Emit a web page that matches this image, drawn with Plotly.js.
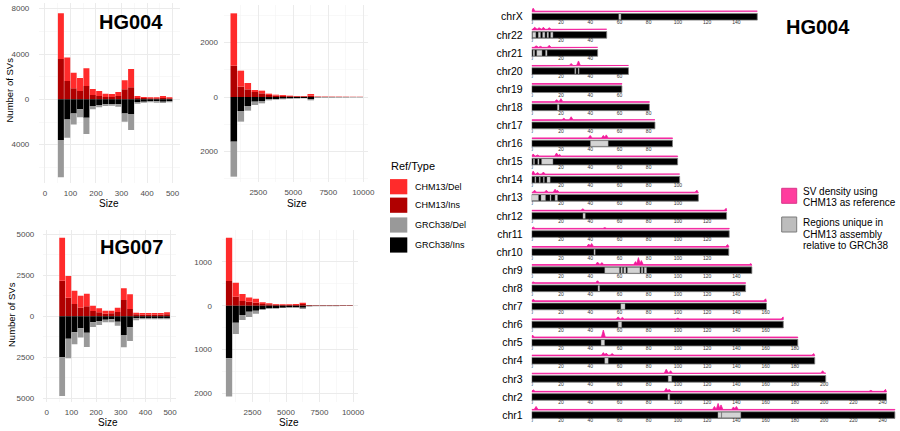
<!DOCTYPE html>
<html><head><meta charset="utf-8">
<script src="https://cdn.plot.ly/plotly-3.0.1.min.js"></script>
<style>html,body{margin:0;padding:0;background:#fff}#chart{width:900px;height:431px}</style>
</head><body><div id="chart"></div><script>
// ---------- SV size histograms ----------
const sizeBinsSmall = [62.5,87.5,112.5,137.5,162.5,187.5,212.5,237.5,262.5,287.5,312.5,337.5,362.5,387.5,412.5,437.5,462.5,487.5];
const sizeBinsLarge = [750,1250,1750,2250,2750,3250,3750,4250,4750,5250,5750,6250,6750,7250,7750,8250,8750,9250,9750];
const sizeTicksSmall = [0,100,200,300,400,500];
const sizeTicksLarge = [2500,5000,7500,10000];

const hg004SmallChmIns = [3560,1620,970,735,1180,380,295,205,205,295,880,1060,120,120,90,90,120,90];
const hg004SmallChmDel = [4030,2060,1380,1145,1560,530,440,295,265,355,800,1620,175,85,85,85,175,85];
const hg004SmallGrcIns = [3590,1770,1240,880,1620,590,500,440,440,440,1240,1290,235,205,175,175,205,175];
const hg004SmallGrcDel = [3290,1610,970,710,1440,290,205,150,120,210,730,1420,145,90,90,120,120,90];

const hg004LargeChmIns = [1146,378,280,183,134,73,49,40,30,25,25,49,10,8,8,6,6,5,5];
const hg004LargeChmDel = [1915,585,232,73,98,49,36,33,19,12,12,61,10,10,7,9,6,5,5];
const hg004LargeGrcIns = [1634,512,329,171,146,85,73,60,49,37,37,73,12,10,10,8,8,6,6];
const hg004LargeGrcDel = [1281,390,171,122,86,37,25,25,24,23,12,49,8,8,5,7,4,4,4];

const hg007SmallChmIns = [2175,1138,752,528,610,325,244,163,183,264,996,447,122,100,100,100,100,120];
const hg007SmallChmDel = [2622,1321,813,732,772,325,244,182,162,264,711,894,102,103,103,103,103,124];
const hg007SmallGrcIns = [2500,1362,976,732,996,366,285,203,183,325,1138,650,122,100,100,100,100,100];
const hg007SmallGrcDel = [2358,1199,731,568,874,284,243,163,183,244,752,854,122,83,83,83,83,83];

const hg007LargeChmIns = [560,205,106,91,68,38,30,23,15,15,15,38,8,6,6,5,5,4,4];
const hg007LargeChmDel = [985,318,159,98,91,38,23,15,15,15,23,30,7,6,6,5,5,4,4];
const hg007LargeGrcIns = [1197,386,212,136,114,76,61,53,45,38,38,45,10,8,8,6,6,5,5];
const hg007LargeGrcDel = [871,258,114,122,68,22,15,15,8,15,15,31,5,4,4,4,4,3,3];

const refTypes = ['CHM13/Del','CHM13/Ins','GRCh38/Del','GRCh38/Ins'];
const refColors = ['#ff2b2b','#b00000','#999999','#000000'];

// ---------- chromosome ideogram ----------
const chromNames = ['chr1','chr2','chr3','chr4','chr5','chr6','chr7','chr8','chr9','chr10','chr11','chr12','chr13','chr14','chr15','chr16','chr17','chr18','chr19','chr20','chr21','chr22','chrX'];
const chromLengths = [248.4,242.7,201.1,193.6,182.0,172.1,160.6,146.3,150.6,134.8,135.1,133.3,114.0,101.2,99.8,96.3,84.3,80.5,61.7,66.2,45.1,51.3,154.3];
const uniqueRegions = [
  ['chrX',59.6,61],
  ['chr22',0.6,2.8],['chr22',4.5,6],['chr22',7.5,9],['chr22',10.5,11.5],['chr22',13,14.5],
  ['chr21',1,2],['chr21',3.5,7],['chr21',9.5,10.5],
  ['chr20',29.5,30.2],['chr20',31.8,32.4],
  ['chr18',17.6,18.7],
  ['chr16',40.2,52.3],
  ['chr15',1.2,1.9],['chr15',4.2,5],['chr15',6.8,14.5],
  ['chr14',2.2,2.8],['chr14',5.2,5.8],['chr14',8,8.6],['chr14',10.5,12.6],
  ['chr13',0,4.6],['chr13',6.4,9.4],['chr13',12.6,13.2],['chr13',16,17.6],
  ['chr12',35.1,36.6],
  ['chr10',42.6,43.4],
  ['chr9',50,60],['chr9',61,62],['chr9',63,64.4],['chr9',65.5,74],['chr9',75,76],['chr9',77,78.5],
  ['chr8',45.4,46.4],
  ['chr7',61,63.8],
  ['chr6',59.2,61.5],
  ['chr5',47.5,49.8],
  ['chr4',50,52.3],
  ['chr3',93.4,95.7],
  ['chr2',93.2,94.4],
  ['chr1',127.4,129.7],['chr1',130,143]
];
const densityPeaks = [
  ['chrX',1,3],
  ['chr22',2,2],['chr22',5,1.5],['chr22',8,2],['chr22',12,1.5],
  ['chr21',3,1.5],['chr21',6,1],['chr21',12,2],
  ['chr20',27,2],['chr20',32,4.5],
  ['chr19',45,0.7],
  ['chr18',17,2],['chr18',20,3],
  ['chr17',22,1.5],['chr17',27,3],
  ['chr16',40,2.5],['chr16',49,2.5],['chr16',51,3],
  ['chr15',1,2],['chr15',4,1],['chr15',17,3],['chr15',19,1.5],
  ['chr14',1,3],['chr14',4,1.5],['chr14',8,2],
  ['chr13',2,2],['chr13',10,2],['chr13',16,3],['chr13',17.5,2],['chr13',113,2],
  ['chr12',35,1.5],['chr12',133,2],
  ['chr11',1,1.5],['chr11',50,0.8],
  ['chr10',39,2.5],['chr10',41,3],['chr10',134,2],
  ['chr9',45,2.5],['chr9',48,2],['chr9',71,3],['chr9',73,7],['chr9',75,4],['chr9',150,1],
  ['chr8',1,0.8],['chr8',45,2],
  ['chr7',1,1.5],['chr7',160,2],
  ['chr6',59,2],['chr6',62,1.5],['chr6',100,0.8],['chr6',172,2],
  ['chr5',0.5,2],['chr5',49,7],
  ['chr4',49,2.5],['chr4',51,2],['chr4',55,1.5],['chr4',193,1.5],
  ['chr3',92,4],['chr3',95,2.5],['chr3',199,2.5],
  ['chr2',1,1.5],['chr2',92,3],['chr2',94,2],['chr2',232,1],['chr2',242,2],
  ['chr1',3,3],['chr1',125,3],['chr1',127.5,6],['chr1',129.5,4.5],['chr1',138,2.5],['chr1',140,3]
];

// ---------- build ----------
const FONT = 'Arial, "Liberation Sans", sans-serif';
const W = 900, H = 431;
const px = v => v / W, py = v => 1 - v / H;
const traces = [];

function panel(xs, chmIns, chmDel, grcIns, grcDel, xa, ya, bw) {
  const neg = a => a.map(v => -v);
  const common = {type:'bar', xaxis:xa, yaxis:ya, width:bw, showlegend:false, hoverinfo:'skip'};
  traces.push(Object.assign({}, common, {name:refTypes[1], x:xs, y:chmIns, base:0, marker:{color:refColors[1], line:{width:0}}}));
  traces.push(Object.assign({}, common, {name:refTypes[0], x:xs, y:chmDel, base:chmIns, marker:{color:refColors[0], line:{width:0}}}));
  traces.push(Object.assign({}, common, {name:refTypes[3], x:xs, y:neg(grcIns), base:0, marker:{color:refColors[3], line:{width:0}}}));
  traces.push(Object.assign({}, common, {name:refTypes[2], x:xs, y:neg(grcDel), base:neg(grcIns), marker:{color:refColors[2], line:{width:0}}}));
}
panel(sizeBinsSmall, hg004SmallChmIns, hg004SmallChmDel, hg004SmallGrcIns, hg004SmallGrcDel, 'x', 'y', 23.5);
panel(sizeBinsLarge, hg004LargeChmIns, hg004LargeChmDel, hg004LargeGrcIns, hg004LargeGrcDel, 'x2', 'y2', 470);
panel(sizeBinsSmall, hg007SmallChmIns, hg007SmallChmDel, hg007SmallGrcIns, hg007SmallGrcDel, 'x3', 'y3', 23.5);
panel(sizeBinsLarge, hg007LargeChmIns, hg007LargeChmDel, hg007LargeGrcIns, hg007LargeGrcDel, 'x4', 'y4', 470);

// chromosome bodies
const rows = chromNames.map((_, i) => i);
traces.push({type:'bar', orientation:'h', xaxis:'x5', yaxis:'y5', y:rows, x:chromLengths, base:0, width:0.37,
  marker:{color:'#000', line:{color:'#808080', width:0.8}}, showlegend:false, hoverinfo:'skip'});
// unique regions
traces.push({type:'bar', orientation:'h', xaxis:'x5', yaxis:'y5',
  y:uniqueRegions.map(r => chromNames.indexOf(r[0])),
  base:uniqueRegions.map(r => r[1]),
  x:uniqueRegions.map(r => r[2] - r[1]),
  width:0.3, marker:{color:'#d4d4d4', line:{color:'#9a9a9a', width:0.4}}, showlegend:false, hoverinfo:'skip'});

// density tracks
const ROW_PX = 18.1, BASE_OFF = 0.31, PEAK_HW = 1.3;
chromNames.forEach((c, i) => {
  const len = chromLengths[i];
  const b = i + BASE_OFF;
  const pk = densityPeaks.filter(p => p[0] === c).sort((a, q) => a[1] - q[1]);
  const xs = [0], ys = [b];
  pk.forEach(p => {
    xs.push(Math.max(0, p[1] - PEAK_HW), p[1], Math.min(len, p[1] + PEAK_HW));
    ys.push(b, b + p[2] / ROW_PX, b);
  });
  xs.push(len, len, 0);
  ys.push(b, b - 0.035, b - 0.035);
  traces.push({type:'scatter', mode:'lines', xaxis:'x5', yaxis:'y5', x:xs, y:ys, fill:'toself',
    fillcolor:'#f21b9a', line:{color:'#f21b9a', width:0.8}, showlegend:false, hoverinfo:'skip'});
});

// per-chromosome Mb tick labels
const tx = [], ty = [], tt = [];
chromNames.forEach((c, i) => {
  for (let m = 0; m <= chromLengths[i]; m += 20) { tx.push(m); ty.push(i - 0.34); tt.push(String(m)); }
});
traces.push({type:'scatter', mode:'text', xaxis:'x5', yaxis:'y5', x:tx, y:ty, text:tt,
  textfont:{size:5, color:'#333', family:FONT}, textposition:'middle center', showlegend:false, hoverinfo:'skip'});

// ---------- axes ----------
const GRID = '#ebebeb', MINOR = '#f4f4f4';
const TICKFONT = {size:8, color:'#4d4d4d', family:FONT};
function xAxis(d0, d1, range, tv, mv, anchor) {
  return {domain:[px(d0), px(d1)], range:range, anchor:anchor, tickmode:'array', tickvals:tv, ticktext:tv.map(String),
    showgrid:true, gridcolor:GRID, gridwidth:1, zeroline:false, showline:false, ticks:'',
    ticklabelstandoff:4, tickfont:TICKFONT,
    minor:{tickmode:'array', tickvals:mv, showgrid:true, gridcolor:MINOR, gridwidth:0.6, ticks:''}};
}
function yAxis(top, bot, range, tv, tt, mv, anchor, so) {
  return {domain:[py(bot), py(top)], range:range, anchor:anchor, tickmode:'array', tickvals:tv, ticktext:tt,
    showgrid:true, gridcolor:GRID, gridwidth:1, zeroline:false, showline:false, ticks:'',
    ticklabelstandoff:so, tickfont:TICKFONT,
    minor:{tickmode:'array', tickvals:mv, showgrid:true, gridcolor:MINOR, gridwidth:0.6, ticks:''}};
}

const layout = {
  width:W, height:H, margin:{l:0, r:0, t:0, b:0}, paper_bgcolor:'#fff', plot_bgcolor:'#fff',
  barmode:'overlay', showlegend:false, font:{family:FONT},
  xaxis: xAxis(39.3, 180, [-22, 529], sizeTicksSmall, [50,150,250,350,450], 'y'),
  yaxis: yAxis(3.3, 182.7, [-7356, 8473], [-4000,0,4000,8000], ['4000','0','4000','8000'], [-6000,-2000,2000,6000], 'x', 9),
  xaxis2: xAxis(224, 368, [50, 10336], sizeTicksLarge, [1250,3750,6250,8750], 'y2'),
  yaxis2: yAxis(5, 182, [-3110, 3366], [-2000,0,2000], ['2000','0','2000'], [-3000,-1000,1000,3000], 'x2', 5),
  xaxis3: xAxis(43.3, 176, [-14, 524], sizeTicksSmall, [50,150,250,350,450], 'y3'),
  yaxis3: yAxis(230, 401.7, [-5207, 5262], [-5000,-2500,0,2500,5000], ['5000','2500','0','2500','5000'], [-3750,-1250,1250,3750], 'x3', 8),
  xaxis4: xAxis(222, 358, [224, 10373], sizeTicksLarge, [1250,3750,6250,8750], 'y4'),
  yaxis4: yAxis(230, 401.7, [-2187, 1724], [-2000,-1000,0,1000], ['2000','1000','0','1000'], [-1500,-500,500,1500], 'x4', 9),
  xaxis5: {domain:[px(531.7), px(898)], range:[0, (898-531.7)/1.462], anchor:'y5', visible:false, showgrid:false, zeroline:false},
  yaxis5: {domain:[py(425), py(5)], range:[-0.55, 22.65], anchor:'x5', tickmode:'array', tickvals:rows, ticktext:chromNames,
    showgrid:false, zeroline:false, showline:false, ticks:'', ticklabelstandoff:8, tickfont:{size:10.5, color:'#000', family:FONT}},
  shapes:[], annotations:[]
};

const ann = (text, x, y, o) => layout.annotations.push(Object.assign({text:text, x:px(x), y:py(y), xref:'paper', yref:'paper',
  showarrow:false, xanchor:'center', yanchor:'middle', font:{family:FONT, size:10, color:'#000'}}, o || {}));

ann('<b>HG004</b>', 131, 21.7, {font:{family:FONT, size:20, color:'#000'}});
ann('<b>HG007</b>', 131, 246.7, {font:{family:FONT, size:20, color:'#000'}});
ann('<b>HG004</b>', 817.5, 27.3, {font:{family:FONT, size:20, color:'#000'}});
ann('Number of SVs', 8.5, 90, {textangle:-90, font:{family:FONT, size:9.5, color:'#000'}});
ann('Number of SVs', 11, 315, {textangle:-90, font:{family:FONT, size:9.5, color:'#000'}});
ann('Size', 109.3, 204);
ann('Size', 296.7, 204);
ann('Size', 108.3, 422.3);
ann('Size', 289.3, 422.3);

// left legend
ann('Ref/Type', 389, 166, {xanchor:'left', font:{family:FONT, size:11, color:'#000'}});
const legY = [186.7, 205.2, 225, 245];
refTypes.forEach((t, k) => {
  layout.shapes.push({type:'rect', xref:'paper', yref:'paper', x0:px(390), x1:px(407.3), y0:py(legY[k]+7.6), y1:py(legY[k]-7.6),
    fillcolor:refColors[k], line:{width:0}});
  ann(t, 413, legY[k], {xanchor:'left', font:{family:FONT, size:9, color:'#000'}});
});

// right legend
layout.shapes.push({type:'rect', xref:'paper', yref:'paper', x0:px(781.7), x1:px(796.7), y0:py(203.3), y1:py(188.3),
  fillcolor:'#ff3d9e', line:{color:'#d9358a', width:1}});
layout.shapes.push({type:'rect', xref:'paper', yref:'paper', x0:px(781.7), x1:px(796.7), y0:py(232), y1:py(217),
  fillcolor:'#bdbdbd', line:{color:'#7a7a7a', width:1}});
ann('SV density using', 801, 191, {xanchor:'left'});
ann('CHM13 as reference', 801, 202, {xanchor:'left'});
ann('Regions unique in', 801, 222.5, {xanchor:'left'});
ann('CHM13 assembly', 801, 234, {xanchor:'left'});
ann('relative to GRCh38', 801, 245.5, {xanchor:'left'});

Plotly.newPlot('chart', traces, layout, {staticPlot:true, displayModeBar:false});
</script></body></html>
